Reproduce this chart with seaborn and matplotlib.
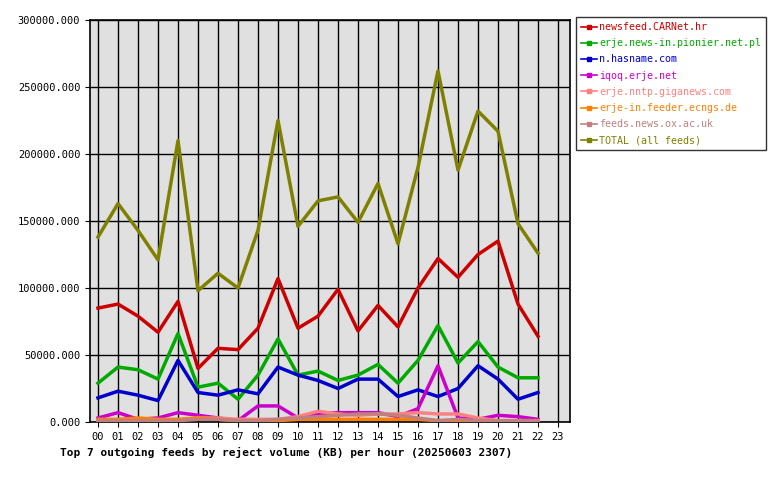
import matplotlib
matplotlib.use("Agg")
import matplotlib.pyplot as plt
import seaborn as sns
import pandas as pd

hours = [f"{h:02d}" for h in range(24)]
names = ["newsfeed.CARNet.hr", "erje.news-in.pionier.net.pl", "n.hasname.com", "iqoq.erje.net",
         "erje.nntp.giganews.com", "erje-in.feeder.ecngs.de", "feeds.news.ox.ac.uk", "TOTAL (all feeds)"]
colors = ["#cc0000", "#00aa00", "#0000cc", "#cc00cc", "#ff8080", "#ff8000", "#c08080", "#808000"]
carnet = [85, 88, 79, 67, 90, 40, 55, 54, 70, 107, 70, 79, 99, 68, 87, 71, 100, 122, 108, 125, 135, 88, 64]
pionier = [29, 41, 39, 32, 66, 26, 29, 17, 35, 62, 35, 38, 31, 35, 43, 29, 46, 72, 44, 60, 41, 33, 33]
hasname = [18, 23, 20, 16, 46, 22, 20, 24, 21, 41, 35, 31, 25, 32, 32, 19, 24, 19, 25, 42, 32, 17, 22]
iqoq = [3, 7, 2, 3, 7, 5, 3, 1, 12, 12, 3, 6, 7, 7, 7, 4, 10, 42, 3, 2, 5, 4, 2]
giganews = [1, 1, 2, 1, 1, 3, 3, 2, 2, 2, 4, 8, 6, 5, 6, 6, 7, 6, 6, 3, 1, 1, 1]
ecngs = [2, 2, 3, 2, 2, 3, 2, 1, 1, 1, 2, 2, 2, 2, 2, 2, 2, 1, 1, 1, 1, 1, 1]
ox = [1, 1, 1, 1, 1, 2, 2, 1, 1, 2, 3, 4, 5, 6, 6, 5, 3, 1, 2, 1, 1, 1, 1]
total = [138, 163, 143, 121, 210, 98, 111, 100, 143, 225, 146, 165, 168, 149, 178, 133, 190, 262, 188, 232, 217, 148, 126]
series = [carnet, pionier, hasname, iqoq, giganews, ecngs, ox, total]

rows = []
for n, s in zip(names, series):
    for i, v in enumerate(s):
        rows.append({"hour": i, "value": v * 1000, "feed": n})
df = pd.DataFrame(rows)

plt.rcParams["font.family"] = "DejaVu Sans Mono"
fig = plt.figure(figsize=(7.8, 4.8), dpi=100)
ax = fig.add_axes([90/780, 1-422/480, 480/780, 402/480])
ax.set_facecolor("#e0e0e0")
sns.lineplot(data=df, x="hour", y="value", hue="feed", hue_order=names, palette=colors,
             linewidth=2.5, ax=ax, legend=False, zorder=3)
ax.set_xlim(-0.4, 23.6)
ax.set_ylim(0, 300000)
ax.set_xticks(range(24))
ax.set_xticklabels(hours, fontsize=7.5)
ax.set_yticks(range(0, 300001, 50000))
ax.set_yticklabels([f"{v}.000" for v in range(0, 300001, 50000)], fontsize=7.5)
ax.grid(True, color="black", linewidth=1, zorder=1)
ax.set_axisbelow(True)
ax.set_xlabel(""); ax.set_ylabel("")
for s in ax.spines.values():
    s.set_linewidth(1.2)
from matplotlib.lines import Line2D
handles = [Line2D([], [], color=c, linewidth=1.2, marker="s", markersize=2.5) for c in colors]
leg = fig.legend(handles, names, loc="upper left", bbox_to_anchor=(576/780, 1-17/480),
                 fontsize=7.2, frameon=True, fancybox=False, edgecolor="black",
                 handlelength=1.6, handletextpad=0.2, borderpad=0.5, borderaxespad=0,
                 labelspacing=0.62)
leg.get_frame().set_linewidth(1)
for t, c in zip(leg.get_texts(), colors):
    t.set_color(c)
fig.text(60/780, 1-452/480, "Top 7 outgoing feeds by reject volume (KB) per hour (20250603 2307)",
         fontsize=8, fontweight="bold", va="center")
fig.savefig("out.png", dpi=100, facecolor="white")
